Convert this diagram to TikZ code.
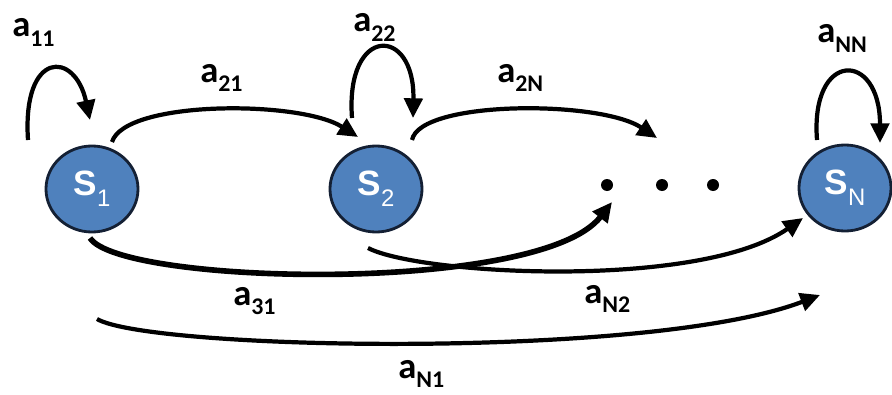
\documentclass[tikz,border=0pt]{standalone}
\usepackage{fontspec}
\setmainfont{Carlito}
\newfontfamily\statefont{Liberation Sans}
\usetikzlibrary{shapes.geometric, arrows.meta, calc}
\definecolor{stateColor}{RGB}{79, 129, 189}
\definecolor{rimColor}{RGB}{20, 32, 52}
\newcommand{\prob}[1]{a\raisebox{-7pt}{\fontsize{17}{17}\selectfont #1}}
\newcommand{\state}[1]{{\statefont\fontsize{25}{25}\selectfont\textbf{S}\raisebox{-8pt}{\fontsize{17}{17}\selectfont #1}}}

\begin{document}
\begin{tikzpicture}[x=0.025cm, y=-0.025cm,
    stateNode/.style={ellipse, draw=rimColor, line width=2pt, fill=stateColor, text=white, minimum width=2.3cm, minimum height=2.15cm, inner sep=0},
    dotNode/.style={circle, fill=black, inner sep=0, minimum size=0.3cm},
    trans/.style={line width=3pt, -{Triangle[length=14pt, width=13pt]}},
    lab/.style={anchor=base west, inner sep=0, font=\fontsize{26}{26}\selectfont\bfseries}]
    \useasboundingbox (0,0) rectangle (892,394);

    % states and dots
    \node[stateNode] (s1) at (92,189) {\state{1}};
    \node[stateNode] (s2) at (376,189) {\state{2}};
    \node[stateNode] (sN) at (845,188) {\state{N}};
    \node[dotNode] (d1) at (607,185) {};
    \node[dotNode] (d2) at (662,185) {};
    \node[dotNode] (d3) at (713,185) {};

    % transitions above
    \draw[trans] ($(s1)+(-64,-49)$) .. controls ($(s1)+(-70,-139)$) and ($(s1)+(-17,-139)$) .. ($(s1)+(-2,-69)$);
    \draw[trans] ($(s1)+(20,-47)$) .. controls ($(s1)+(33,-89)$) and ($(s2)+(-76,-89)$) .. ($(s2)+(-18,-52)$);
    \draw[trans] ($(s2)+(-24,-71)$) .. controls ($(s2)+(-31,-164)$) and ($(s2)+(39,-164)$) .. ($(s2)+(37,-71)$);
    \draw[trans] ($(s2)+(36,-49)$) .. controls ($(s2)+(44,-89)$) and ($(d1)+(-7,-85)$) .. ($(d1)+(50,-47)$);
    \draw[trans] ($(sN)+(-28,-48)$) .. controls ($(sN)+(-35,-138)$) and ($(sN)+(35,-138)$) .. ($(sN)+(35,-45)$);

    % transitions below
    \draw[trans, line width=4pt] ($(s1)+(-2,49)$) .. controls ($(s1)+(28,96)$) and ($(d1)+(-67,110)$) .. ($(d1)+(5,17)$);
    \draw[trans] ($(s2)+(-8,59)$) .. controls ($(s2)+(44,86)$) and ($(sN)+(-145,102)$) .. ($(sN)+(-42,30)$);
    \draw[trans] ($(s1)+(5,130)$) .. controls ($(s1)+(58,161)$) and ($(sN)+(-195,172)$) .. ($(sN)+(-25,107)$);

    % labels
    \node[lab] (l11) at (12,37) {\prob{11}};
    \node[lab] (l21) at (200,82) {\prob{21}};
    \node[lab] (l22) at (353,32) {\prob{22}};
    \node[lab] (l2N) at (497,82) {\prob{2N}};
    \node[lab] (lNN) at (817,43) {\prob{NN}};
    \node[lab] (l31) at (233,305) {\prob{31}};
    \node[lab] (lN2) at (584,303) {\prob{N2}};
    \node[lab] (lN1) at (398,378) {\prob{N1}};
\end{tikzpicture}
\end{document}
